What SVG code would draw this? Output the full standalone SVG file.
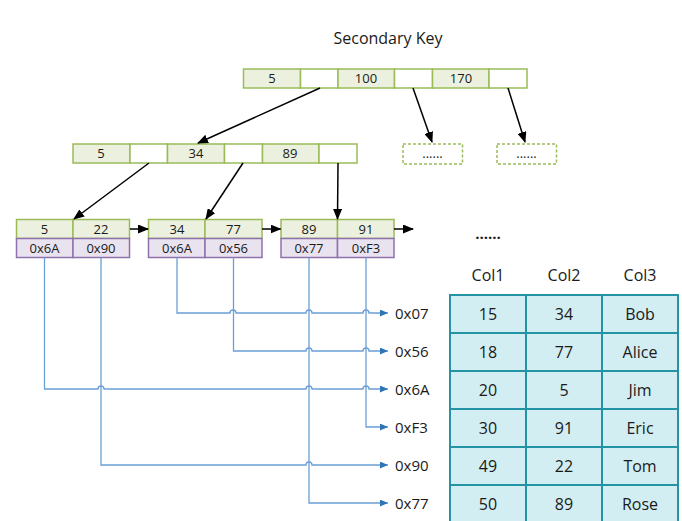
<svg xmlns="http://www.w3.org/2000/svg" width="682" height="521" viewBox="0 0 682 521">
<defs>
<style>
text{font-family:"Open Sans","Noto Sans","DejaVu Sans",sans-serif;fill:#1a1a1a}
.k{fill:#ebf1de;stroke:#9bbb59;stroke-width:1.5}
.b{fill:#ffffff;stroke:#9bbb59;stroke-width:1.5}
.p{fill:#e9e3f0;stroke:#8e72ad;stroke-width:1.5}
.d{fill:#ffffff;stroke:#9bbb59;stroke-width:1.5;stroke-dasharray:3,2}
.c{font-size:13px;text-anchor:middle}
.t{fill:#d3eef3;stroke:#2593a6;stroke-width:2}
.tt{font-size:16px;text-anchor:middle}
.lb{font-size:15px}
.ar{stroke:#000;stroke-width:1.5;fill:none}
.bl{stroke:#6a9fd8;stroke-width:1.3;fill:none}
</style>
<marker id="ah" markerUnits="userSpaceOnUse" markerWidth="11" markerHeight="9" refX="10" refY="4.5" orient="auto"><path d="M0,0 L11,4.5 L0,9 z" fill="#000"/></marker>
<marker id="bh" markerUnits="userSpaceOnUse" markerWidth="8" markerHeight="7" refX="8" refY="3.5" orient="auto"><path d="M0,0 L8,3.5 L0,7 z" fill="#2e75b6"/></marker>
</defs>
<rect width="682" height="521" fill="#fff"/>
<text x="388" y="44" font-size="16" text-anchor="middle">Secondary Key</text>

<g id="root">
<rect class="k" x="243.5" y="69" width="57" height="19"/>
<rect class="b" x="300.5" y="69" width="37.5" height="19"/>
<rect class="k" x="338" y="69" width="56.5" height="19"/>
<rect class="b" x="394.5" y="69" width="38" height="19"/>
<rect class="k" x="432.5" y="69" width="56.5" height="19"/>
<rect class="b" x="489" y="69" width="38" height="19"/>
<text class="c" x="272" y="83">5</text>
<text class="c" x="366" y="83">100</text>
<text class="c" x="461" y="83">170</text>
</g>

<g id="inner">
<rect class="k" x="73" y="144" width="57" height="19"/>
<rect class="b" x="130" y="144" width="37.5" height="19"/>
<rect class="k" x="167.5" y="144" width="57" height="19"/>
<rect class="b" x="224.5" y="144" width="38" height="19"/>
<rect class="k" x="262.5" y="144" width="56.5" height="19"/>
<rect class="b" x="319" y="144" width="38" height="19"/>
<text class="c" x="101" y="158">5</text>
<text class="c" x="196" y="158">34</text>
<text class="c" x="290" y="158">89</text>
</g>

<g id="more1">
<rect class="d" x="403" y="144" width="59.5" height="20"/>
<text class="c" x="432.5" y="158">......</text>
</g>
<g id="more2">
<rect class="d" x="497" y="144" width="59.5" height="20"/>
<text class="c" x="526.5" y="158">......</text>
</g>

<g id="leaf1">
<rect class="k" x="16.5" y="219.5" width="56.5" height="19"/>
<rect class="k" x="73" y="219.5" width="56.5" height="19"/>
<rect class="p" x="16.5" y="238.5" width="56.5" height="19"/>
<rect class="p" x="73" y="238.5" width="56.5" height="19"/>
<text class="c" x="44.5" y="233.5">5</text>
<text class="c" x="101" y="233.5">22</text>
<text class="c" x="44.5" y="252.5">0x6A</text>
<text class="c" x="101" y="252.5">0x90</text>
</g>
<g id="leaf2">
<rect class="k" x="148.5" y="219.5" width="56.5" height="19"/>
<rect class="k" x="205" y="219.5" width="57" height="19"/>
<rect class="p" x="148.5" y="238.5" width="56.5" height="19"/>
<rect class="p" x="205" y="238.5" width="57" height="19"/>
<text class="c" x="177" y="233.5">34</text>
<text class="c" x="233.5" y="233.5">77</text>
<text class="c" x="177" y="252.5">0x6A</text>
<text class="c" x="233.5" y="252.5">0x56</text>
</g>
<g id="leaf3">
<rect class="k" x="281" y="219.5" width="56.5" height="19"/>
<rect class="k" x="337.5" y="219.5" width="56.5" height="19"/>
<rect class="p" x="281" y="238.5" width="56.5" height="19"/>
<rect class="p" x="337.5" y="238.5" width="56.5" height="19"/>
<text class="c" x="309" y="233.5">89</text>
<text class="c" x="366" y="233.5">91</text>
<text class="c" x="309" y="252.5">0x77</text>
<text class="c" x="366" y="252.5">0xF3</text>
</g>
<text x="488" y="239" font-size="15" font-weight="bold" text-anchor="middle">......</text>

<g id="connectors">
<path class="ar" marker-end="url(#ah)" d="M320,88 L198,143"/>
<path class="ar" marker-end="url(#ah)" d="M413,88 L432,142"/>
<path class="ar" marker-end="url(#ah)" d="M508,88 L525,142"/>
<path class="ar" marker-end="url(#ah)" d="M149,163 L74,219"/>
<path class="ar" marker-end="url(#ah)" d="M243,163 L206,219"/>
<path class="ar" marker-end="url(#ah)" d="M338,163 L337.5,219"/>
<path class="ar" marker-end="url(#ah)" d="M130,229 L148,229"/>
<path class="ar" marker-end="url(#ah)" d="M262,229 L280.5,229"/>
<path class="ar" marker-end="url(#ah)" d="M394,229 L413,229"/>

<path class="bl" marker-end="url(#bh)" d="M177,257.5 V313 H230 a3,3 0 0 1 6,0 H306 a3,3 0 0 1 6,0 H363 a3,3 0 0 1 6,0 H388"/>
<path class="bl" marker-end="url(#bh)" d="M233.5,257.5 V351 H306 a3,3 0 0 1 6,0 H363 a3,3 0 0 1 6,0 H388"/>
<path class="bl" marker-end="url(#bh)" d="M44.5,257.5 V389 H98 a3,3 0 0 1 6,0 H306 a3,3 0 0 1 6,0 H363 a3,3 0 0 1 6,0 H388"/>
<path class="bl" marker-end="url(#bh)" d="M366,257.5 V427 H388"/>
<path class="bl" marker-end="url(#bh)" d="M101,257.5 V465 H306 a3,3 0 0 1 6,0 H388"/>
<path class="bl" marker-end="url(#bh)" d="M309,257.5 V503 H388"/>
</g>

<g id="labels">
<text class="lb" x="395" y="318.5">0x07</text>
<text class="lb" x="395" y="356.5">0x56</text>
<text class="lb" x="395" y="394.5">0x6A</text>
<text class="lb" x="395" y="432.5">0xF3</text>
<text class="lb" x="395" y="470.5">0x90</text>
<text class="lb" x="395" y="508.5">0x77</text>
</g>

<g id="table">
<text class="tt" x="488" y="281">Col1</text>
<text class="tt" x="564" y="281">Col2</text>
<text class="tt" x="640" y="281">Col3</text>
<rect class="t" x="450" y="295" width="76" height="38"/><rect class="t" x="526" y="295" width="76" height="38"/><rect class="t" x="602" y="295" width="76" height="38"/>
<rect class="t" x="450" y="333" width="76" height="38"/><rect class="t" x="526" y="333" width="76" height="38"/><rect class="t" x="602" y="333" width="76" height="38"/>
<rect class="t" x="450" y="371" width="76" height="38"/><rect class="t" x="526" y="371" width="76" height="38"/><rect class="t" x="602" y="371" width="76" height="38"/>
<rect class="t" x="450" y="409" width="76" height="38"/><rect class="t" x="526" y="409" width="76" height="38"/><rect class="t" x="602" y="409" width="76" height="38"/>
<rect class="t" x="450" y="447" width="76" height="38"/><rect class="t" x="526" y="447" width="76" height="38"/><rect class="t" x="602" y="447" width="76" height="38"/>
<rect class="t" x="450" y="485" width="76" height="38"/><rect class="t" x="526" y="485" width="76" height="38"/><rect class="t" x="602" y="485" width="76" height="38"/>
<text class="tt" x="488" y="319.5">15</text><text class="tt" x="564" y="319.5">34</text><text class="tt" x="640" y="319.5">Bob</text>
<text class="tt" x="488" y="357.5">18</text><text class="tt" x="564" y="357.5">77</text><text class="tt" x="640" y="357.5">Alice</text>
<text class="tt" x="488" y="395.5">20</text><text class="tt" x="564" y="395.5">5</text><text class="tt" x="640" y="395.5">Jim</text>
<text class="tt" x="488" y="433.5">30</text><text class="tt" x="564" y="433.5">91</text><text class="tt" x="640" y="433.5">Eric</text>
<text class="tt" x="488" y="471.5">49</text><text class="tt" x="564" y="471.5">22</text><text class="tt" x="640" y="471.5">Tom</text>
<text class="tt" x="488" y="509.5">50</text><text class="tt" x="564" y="509.5">89</text><text class="tt" x="640" y="509.5">Rose</text>
</g>
</svg>
